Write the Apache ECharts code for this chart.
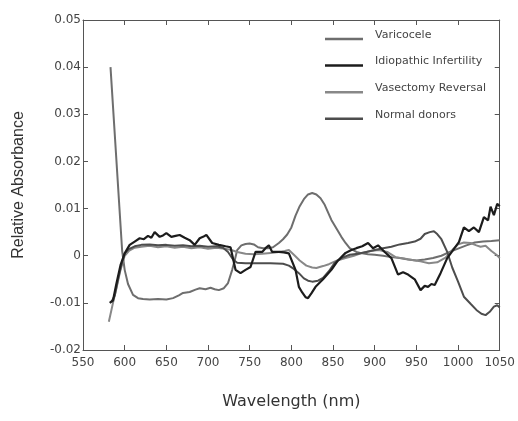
<!DOCTYPE html>
<html>
<head>
<meta charset="utf-8">
<script src="https://cdn.jsdelivr.net/npm/echarts@6/dist/echarts.min.js"></script>
<style>html,body{margin:0;padding:0;background:#fff}#c{width:518px;height:421px}</style>
</head>
<body>
<div id="c"></div>
<script>
// ---- data ----
const seriesNames = ['Varicocele', 'Idiopathic Infertility', 'Vasectomy Reversal', 'Normal donors'];
const xTicks = [550, 600, 650, 700, 750, 800, 850, 900, 950, 1000, 1050];
const yTicks = [-0.02, -0.01, 0, 0.01, 0.02, 0.03, 0.04, 0.05];

const varWl = [583,597,600,604,610,616,622,630,640,650,658,665,670,678,685,690,697,703,708,713,719,724,729,732,735,740,745,750,755,760,766,772,778,785,790,795,800,805,810,815,820,825,830,835,840,848,855,860,865,870,878,885,892,900,910,920,930,940,950,960,970,980,990,1000,1010,1020,1030,1040,1050];
const varVal = [0.040,0.001,-0.003,-0.006,-0.0083,-0.0090,-0.0092,-0.0093,-0.0092,-0.0093,-0.0090,-0.0084,-0.0079,-0.0077,-0.0072,-0.0069,-0.0071,-0.0068,-0.0071,-0.0073,-0.0069,-0.0058,-0.003,-0.001,0.0012,0.0022,0.0025,0.0026,0.0024,0.0018,0.0016,0.0016,0.0018,0.0027,0.0035,0.0045,0.006,0.0085,0.0105,0.012,0.0130,0.0133,0.0130,0.0122,0.0108,0.0076,0.0055,0.004,0.0027,0.0016,0.0008,0.0005,0.0003,0.0002,0.0,-0.0003,-0.0005,-0.0008,-0.001,-0.0008,-0.0005,0.0,0.0008,0.0015,0.0022,0.0028,0.0030,0.0031,0.0033];

const idiWl = [582,586,590,595,600,606,612,618,623,628,632,636,642,646,650,656,661,666,672,678,684,690,694,698,705,713,721,727,733,739,745,751,757,765,769,773,777,785,791,797,805,809,813,817,820,824,829,838,848,856,865,872,878,885,892,898,904,912,920,928,934,940,948,955,960,964,968,972,979,987,994,1001,1007,1013,1019,1025,1031,1036,1039,1043,1047,1050];
const idiVal = [-0.010,-0.0095,-0.006,-0.002,0.0005,0.0023,0.0030,0.0037,0.0035,0.0042,0.0038,0.0050,0.0040,0.0043,0.0048,0.0040,0.0042,0.0044,0.0038,0.0033,0.0023,0.0037,0.0040,0.0044,0.0027,0.0023,0.0020,0.0018,-0.0030,-0.0037,-0.0030,-0.0024,0.0008,0.0008,0.0016,0.0022,0.0008,0.0008,0.0007,0.0005,-0.0030,-0.0066,-0.0078,-0.0088,-0.0090,-0.0080,-0.0066,-0.0050,-0.0030,-0.0010,0.0006,0.0012,0.0016,0.0020,0.0027,0.0016,0.0022,0.0008,-0.0005,-0.0040,-0.0035,-0.0040,-0.0050,-0.0073,-0.0064,-0.0066,-0.0060,-0.0062,-0.0037,-0.0005,0.0012,0.0029,0.0060,0.0052,0.0060,0.0050,0.0082,0.0075,0.0104,0.0086,0.0110,0.0105];

const vasWl = [581,586,590,595,600,605,612,620,630,640,650,660,670,680,690,700,710,720,728,735,745,755,765,775,785,792,797,803,810,818,825,830,838,845,855,865,875,885,895,905,915,925,935,945,955,965,975,985,993,1000,1007,1015,1022,1027,1033,1040,1046,1050];
const vasVal = [-0.014,-0.010,-0.007,-0.003,0.0,0.0010,0.0017,0.0019,0.0021,0.0018,0.0020,0.0017,0.0019,0.0016,0.0018,0.0015,0.0017,0.0015,0.0012,0.0008,0.0004,0.0003,0.0004,0.0006,0.0008,0.0010,0.0012,0.0002,-0.0010,-0.0021,-0.0025,-0.0026,-0.0022,-0.0018,-0.0010,-0.0005,0.0,0.0006,0.0010,0.0012,0.0008,-0.0003,-0.0006,-0.0009,-0.0012,-0.0016,-0.0014,-0.0004,0.0012,0.0024,0.0028,0.0027,0.0022,0.0019,0.0021,0.0010,0.0002,-0.0005];

const norWl = [584,588,592,596,600,605,612,620,630,640,650,660,670,680,690,700,710,718,724,730,735,745,760,775,790,797,803,809,815,820,825,832,838,845,852,860,870,880,890,900,910,920,930,940,948,955,960,966,971,975,980,987,993,1000,1007,1015,1022,1028,1033,1038,1043,1047,1050];
const norVal = [-0.0098,-0.0085,-0.005,-0.002,0.0005,0.0014,0.0020,0.0023,0.0024,0.0022,0.0023,0.0021,0.0022,0.0020,0.0021,0.0019,0.0020,0.0017,0.0008,-0.0008,-0.0015,-0.0016,-0.0016,-0.0016,-0.0017,-0.0021,-0.0028,-0.0037,-0.0048,-0.0053,-0.0055,-0.0053,-0.0047,-0.0033,-0.0015,-0.0005,0.0002,0.0004,0.0008,0.0012,0.0016,0.0019,0.0024,0.0027,0.0030,0.0036,0.0046,0.0050,0.0052,0.0046,0.0035,0.0008,-0.0025,-0.0055,-0.0087,-0.0102,-0.0115,-0.0123,-0.0126,-0.0119,-0.0108,-0.0105,-0.0110];

const colors = ['#6e6e6e', '#1c1c1c', '#888888', '#4d4d4d'];

function zip(a, b) { return a.map((x, i) => [x, b[i]]); }
const allData = [zip(varWl, varVal), zip(idiWl, idiVal), zip(vasWl, vasVal), zip(norWl, norVal)];

const chart = echarts.init(document.getElementById('c'), null, { renderer: 'canvas' });
const tickFont = { fontFamily: 'DejaVu Sans', fontSize: 12, color: '#444' };
const frameLine = { show: true, onZero: false, lineStyle: { color: '#555', width: 1 } };
const tickStyle = { show: true, inside: true, length: 5, lineStyle: { color: '#555' } };

chart.setOption({
  animation: false,
  backgroundColor: '#fff',
  color: colors,
  grid: { left: 83, right: 15, top: 20, bottom: 71 },
  legend: {
    orient: 'vertical', left: 325, top: 29.5, padding: 0,
    icon: 'rect', itemWidth: 38, itemHeight: 2.5, itemGap: 15.6,
    data: seriesNames,
    formatter: '{t|{name}}',
    textStyle: {
      fontFamily: 'DejaVu Sans', fontSize: 11, color: '#444',
      rich: { t: { fontFamily: 'DejaVu Sans', fontSize: 11, color: '#444', padding: [0, 0, 8, 7] } }
    }
  },
  xAxis: [{
    type: 'value', min: 550, max: 1050, interval: 50,
    name: 'Wavelength (nm)', nameLocation: 'middle', nameGap: 44,
    nameTextStyle: { fontFamily: 'DejaVu Sans', fontSize: 16, color: '#333' },
    axisLine: frameLine, axisTick: tickStyle,
    axisLabel: Object.assign({ margin: 7, formatter: v => xTicks.includes(v) ? String(v) : '' }, tickFont),
    splitLine: { show: false }
  }, {
    type: 'value', position: 'top', min: 550, max: 1050, interval: 50,
    axisLine: frameLine, axisTick: tickStyle,
    axisLabel: { show: false }, splitLine: { show: false }
  }],
  yAxis: [{
    type: 'value', min: -0.02, max: 0.05, interval: 0.01,
    name: 'Relative Absorbance', nameLocation: 'middle', nameGap: 56,
    nameTextStyle: { fontFamily: 'Liberation Sans', fontSize: 16, color: '#333' },
    axisLine: frameLine, axisTick: tickStyle,
    axisLabel: Object.assign({ margin: 2, formatter: v => {
      const t = yTicks.find(k => Math.abs(k - v) < 1e-9);
      if (t === undefined) return '';
      return Math.abs(t) < 1e-9 ? '0' : t.toFixed(2);
    } }, tickFont),
    splitLine: { show: false }
  }, {
    type: 'value', position: 'right', min: -0.02, max: 0.05, interval: 0.01,
    axisLine: frameLine, axisTick: tickStyle,
    axisLabel: { show: false }, splitLine: { show: false }
  }],
  series: seriesNames.map((n, i) => ({
    name: n, type: 'line', data: allData[i],
    xAxisIndex: 0, yAxisIndex: 0,
    symbol: 'none', smooth: false,
    lineStyle: { width: i === 1 ? 2.2 : 2, color: colors[i] },
    itemStyle: { color: colors[i] },
    z: i === 1 ? 5 : 3
  }))
});
</script>
</body>
</html>
